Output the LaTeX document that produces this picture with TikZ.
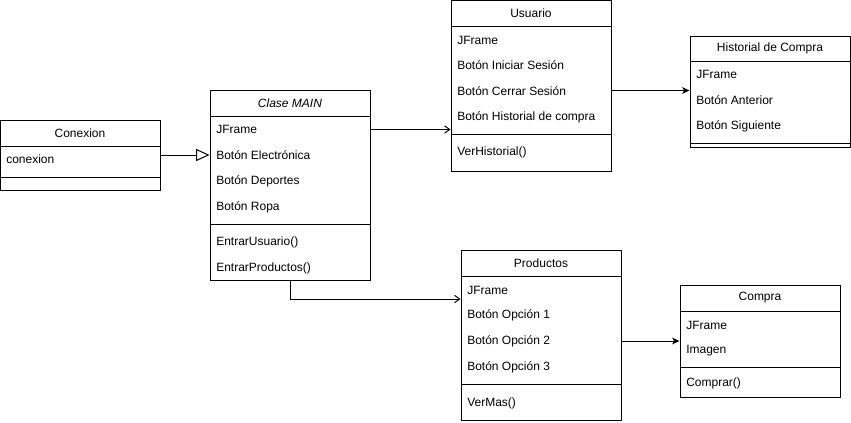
\documentclass[tikz,border=0pt]{standalone}
\usepackage{fontspec}
\setmainfont{Liberation Sans}
\usetikzlibrary{arrows.meta,fit}
\begin{document}
\begin{tikzpicture}[x=0.75pt,y=-0.75pt,
  box/.style={draw, line width=0.75pt, inner sep=0pt},
  sep/.style={line width=0.75pt},
  attr/.style={anchor=west, inner sep=0pt, font=\fontsize{9}{11}\selectfont},
  ttl/.style={inner sep=0pt, font=\fontsize{9}{11}\selectfont},
  conn/.style={line width=0.75pt},
  openarr/.style={conn, -{Straight Barb[length=3.8pt,width=5.5pt]}},
  fillarr/.style={conn, -{Stealth[length=5.5pt,width=5pt,inset=1.5pt]}},
  inherit/.style={conn, -{Triangle[open,length=10pt,width=9pt]}}]
\useasboundingbox (0,0) rectangle (851,422);

% Conexion
\node[box, fit={(0.5,120.5)(160,190.5)}] (conexion) {};
\draw[sep] (conexion.west |- 0,146) -- (conexion.east |- 0,146);
\draw[sep] (conexion.west |- 0,177.5) -- (conexion.east |- 0,177.5);
\node[ttl] (conT) at (80,133) {Conexion};
\node[attr] (conA1) at (6,159) {conexion};

% Clase MAIN
\node[box, fit={(210,90)(370,280)}] (main) {};
\draw[sep] (main.west |- 0,116) -- (main.east |- 0,116);
\draw[sep] (main.west |- 0,224) -- (main.east |- 0,224);
\node[ttl, font=\fontsize{9}{11}\selectfont\itshape] (mainT) at (290,103) {Clase MAIN};
\node[attr] (mainA1) at (216,129) {JFrame};
\node[attr] (mainA2) at (216,155) {Botón Electrónica};
\node[attr] (mainA3) at (216,181) {Botón Deportes};
\node[attr] (mainA4) at (216,207) {Botón Ropa};
\node[attr] (mainM1) at (216,242) {EntrarUsuario()};
\node[attr] (mainM2) at (216,268) {EntrarProductos()};

% Usuario
\node[box, fit={(451,0.5)(611,171)}] (usuario) {};
\draw[sep] (usuario.west |- 0,26) -- (usuario.east |- 0,26);
\draw[sep] (usuario.west |- 0,134) -- (usuario.east |- 0,134);
\node[ttl] (usuT) at (531,13) {Usuario};
\node[attr] (usuA1) at (457,40) {JFrame};
\node[attr] (usuA2) at (457,65) {Botón Iniciar Sesión};
\node[attr] (usuA3) at (457,91) {Botón Cerrar Sesión};
\node[attr] (usuA4) at (457,117) {Botón Historial de compra};
\node[attr] (usuM1) at (457,152) {VerHistorial()};

% Historial de Compra
\node[box, fit={(690,36)(850,147.5)}] (hist) {};
\draw[sep] (hist.west |- 0,61) -- (hist.east |- 0,61);
\draw[sep] (hist.west |- 0,143.5) -- (hist.east |- 0,143.5);
\node[ttl] (histT) at (770,48.5) {Historial de Compra};
\node[attr] (histA1) at (696,74) {JFrame};
\node[attr] (histA2) at (696,100) {Botón Anterior};
\node[attr] (histA3) at (696,126) {Botón Siguiente};

% Productos
\node[box, fit={(461,250)(621,420)}] (prod) {};
\draw[sep] (prod.west |- 0,276) -- (prod.east |- 0,276);
\draw[sep] (prod.west |- 0,384) -- (prod.east |- 0,384);
\node[ttl] (prodT) at (541,263) {Productos};
\node[attr] (prodA1) at (467,290) {JFrame};
\node[attr] (prodA2) at (467,315) {Botón Opción 1};
\node[attr] (prodA3) at (467,341) {Botón Opción 2};
\node[attr] (prodA4) at (467,367) {Botón Opción 3};
\node[attr] (prodM1) at (467,403) {VerMas()};

% Compra
\node[box, fit={(680,285)(840,397)}] (compra) {};
\draw[sep] (compra.west |- 0,311) -- (compra.east |- 0,311);
\draw[sep] (compra.west |- 0,367) -- (compra.east |- 0,367);
\node[ttl] (compT) at (760,298) {Compra};
\node[attr] (compA1) at (686,325) {JFrame};
\node[attr] (compA2) at (686,351) {Imagen};
\node[attr] (compM1) at (686,383) {Comprar()};

% Connectors
\draw[inherit] (conexion.east |- 0,155) -- (main.west |- 0,155);
\draw[openarr] (main.east |- 0,129.5) -- (usuario.west |- 0,129.5);
\draw[fillarr] (usuario.east |- 0,90.5) -- (hist.west |- 0,90.5);
\draw[openarr] (main.south) |- (prod.west |- 0,299);
\draw[fillarr] (prod.east |- 0,341) -- (compra.west |- 0,341);
\end{tikzpicture}
\end{document}
